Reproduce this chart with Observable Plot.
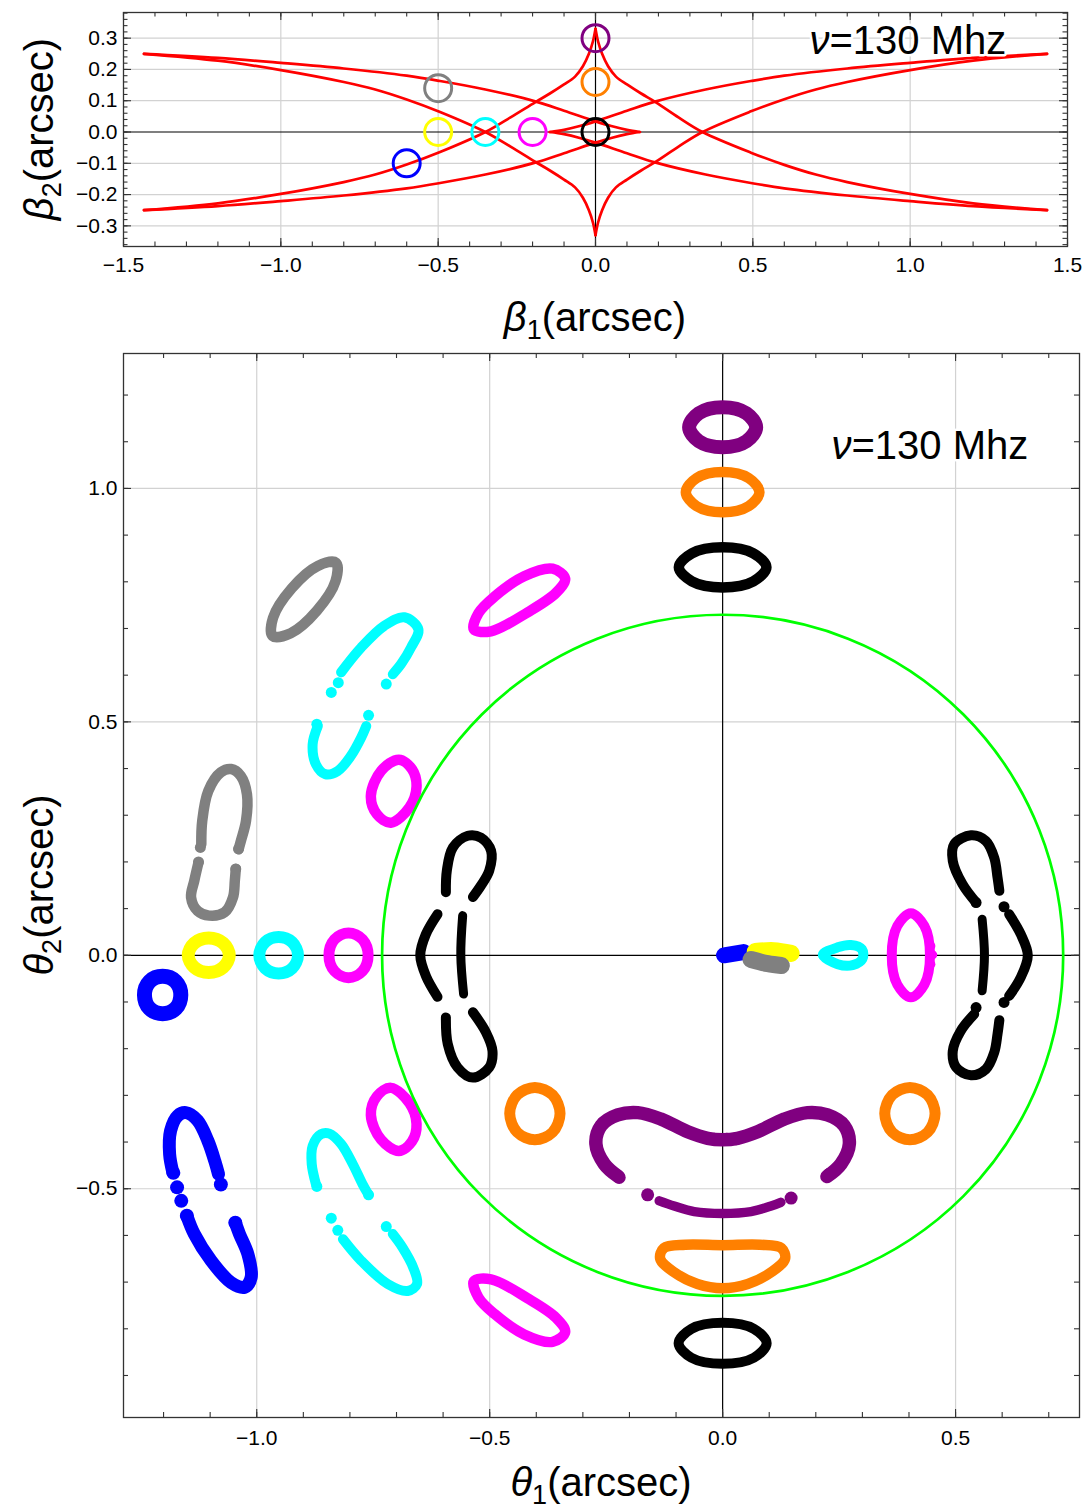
<!DOCTYPE html>
<html><head><meta charset="utf-8">
<script src="https://cdn.jsdelivr.net/npm/d3@7"></script>
<script src="https://cdn.jsdelivr.net/npm/@observablehq/plot@0.6"></script>
<style>
body{margin:0;background:#fff;font-family:"Liberation Sans",Arial,sans-serif;}
svg{display:block}
</style></head><body><div id="c"></div>
<script>
// ---------- colours
const COL = {blue:"#0000ff", yellow:"#ffff00", cyan:"#00ffff", magenta:"#ff00ff", black:"#000000", orange:"#ff8000", purple:"#800080", gray:"#808080", red:"#ff0000", green:"#00ff00"};

// ---------- TOP PANEL DATA (source plane)
const topXMajor = [-1.5,-1.0,-0.5,0,0.5,1.0,1.5];
const topYMajor = [-0.3,-0.2,-0.1,0,0.1,0.2,0.3];
const topGridX = [-1.0,-0.5,0.5,1.0];
const topGridY = [-0.3,-0.2,-0.1,0.1,0.2,0.3];
const srcX = [0, 0, 0, -0.2, -0.35, -0.5, -0.5, -0.6];
const srcY = [0.3, 0.16, 0, 0, 0, 0, 0.14, -0.1];
const srcColor = [COL.purple, COL.orange, COL.black, COL.magenta, COL.cyan, COL.yellow, COL.gray, COL.blue];

const steepTopLeft = [[0,0.33],[-0.008,0.29],[-0.021,0.25],[-0.04,0.21],[-0.065,0.177],[-0.1,0.152],[-0.145,0.123],[-0.192,0.095],[-0.27,0.047],[-0.35,0],[-0.494,-0.064],[-0.6,-0.104],[-0.7,-0.136],[-0.8,-0.16],[-1.0,-0.198],[-1.2,-0.228],[-1.435,-0.25]];
const steepTopRight = [[0,0.33],[0.008,0.29],[0.021,0.25],[0.04,0.21],[0.065,0.177],[0.1,0.152],[0.145,0.123],[0.192,0.095],[0.265,0.046],[0.34,0],[0.494,-0.066],[0.6,-0.105],[0.7,-0.136],[0.8,-0.16],[1.0,-0.198],[1.2,-0.228],[1.435,-0.25]];
const steepBottomLeft = [[0,-0.33],[-0.008,-0.29],[-0.021,-0.25],[-0.04,-0.21],[-0.065,-0.177],[-0.1,-0.152],[-0.145,-0.123],[-0.192,-0.095],[-0.27,-0.047],[-0.35,0],[-0.494,0.064],[-0.6,0.104],[-0.7,0.136],[-0.8,0.16],[-1.0,0.198],[-1.2,0.228],[-1.435,0.25]];
const steepBottomRight = [[0,-0.33],[0.008,-0.29],[0.021,-0.25],[0.04,-0.21],[0.065,-0.177],[0.1,-0.152],[0.145,-0.123],[0.192,-0.095],[0.265,-0.046],[0.34,0],[0.494,0.066],[0.6,0.105],[0.7,0.136],[0.8,0.16],[1.0,0.198],[1.2,0.228],[1.435,0.25]];
const flatUpperLeft = [[-1.435,0.25],[-1.2,0.237],[-1.0,0.221],[-0.8,0.203],[-0.6,0.18],[-0.494,0.163],[-0.35,0.136],[-0.192,0.098],[-0.1,0.068],[0,0.034],[0.05,0.019],[0.1,0.007],[0.141,0]];
const flatLowerLeft = [[-1.435,-0.25],[-1.2,-0.237],[-1.0,-0.221],[-0.8,-0.203],[-0.6,-0.18],[-0.494,-0.163],[-0.35,-0.136],[-0.192,-0.098],[-0.1,-0.068],[0,-0.034],[0.05,-0.019],[0.1,-0.007],[0.141,0]];
const flatUpperRight = [[1.435,0.25],[1.2,0.237],[1.0,0.221],[0.8,0.203],[0.6,0.18],[0.494,0.163],[0.35,0.136],[0.192,0.098],[0.1,0.068],[0,0.034],[-0.05,0.019],[-0.1,0.007],[-0.145,0]];
const flatLowerRight = [[1.435,-0.25],[1.2,-0.237],[1.0,-0.221],[0.8,-0.203],[0.6,-0.18],[0.494,-0.163],[0.35,-0.136],[0.192,-0.098],[0.1,-0.068],[0,-0.034],[-0.05,-0.019],[-0.1,-0.007],[-0.145,0]];

// ---------- BOTTOM PANEL DATA (image plane)
const botXMajor = [-1.0,-0.5,0,0.5];
const botYMajor = [-0.5,0,0.5,1.0];
const botGridX = [-1.0,-0.5,0.5];
const botGridY = [-0.5,0.5,1.0];
const lensCenter = [[0,0]];
const einsteinRadius = 0.731;

// closed images
const purpleTop = [[0.072,1.131],[0.051,1.161],[0,1.174],[-0.051,1.161],[-0.072,1.131],[-0.051,1.101],[0,1.088],[0.051,1.101]];
const orangeTop = [[0.079,0.992],[0.056,1.022],[0,1.035],[-0.056,1.022],[-0.079,0.992],[-0.056,0.962],[0,0.949],[0.056,0.962]];
const blackTop = [[0.094,0.831],[0.066,0.861],[0,0.874],[-0.066,0.861],[-0.094,0.831],[-0.066,0.801],[0,0.788],[0.066,0.801]];
const blackBottom = [[0.0945,-0.831],[0.067,-0.8],[0,-0.787],[-0.067,-0.8],[-0.0945,-0.831],[-0.067,-0.862],[0,-0.875],[0.067,-0.862]];
const magentaUpTilt = [[-0.534,0.698],[-0.524,0.733],[-0.49,0.768],[-0.426,0.812],[-0.365,0.828],[-0.338,0.807],[-0.358,0.776],[-0.418,0.735],[-0.497,0.694]];
const magentaLowTilt = [[-0.534,-0.698],[-0.524,-0.733],[-0.49,-0.768],[-0.426,-0.812],[-0.365,-0.828],[-0.338,-0.807],[-0.358,-0.776],[-0.418,-0.735],[-0.497,-0.694]];
const grayEllipse = [[-0.83,0.841],[-0.869,0.834],[-0.925,0.786],[-0.965,0.723],[-0.966,0.684],[-0.927,0.69],[-0.871,0.738],[-0.831,0.801]];
const yellowRing = [[-1.059,0],[-1.072,0.026],[-1.103,0.037],[-1.134,0.026],[-1.147,0],[-1.134,-0.026],[-1.103,-0.037],[-1.072,-0.026]];
const cyanRing = [[-0.9115,0],[-0.924,0.028],[-0.953,0.039],[-0.982,0.028],[-0.9945,0],[-0.982,-0.028],[-0.953,-0.039],[-0.924,-0.028]];
const magentaRingL = [[-0.761,0],[-0.773,0.034],[-0.803,0.048],[-0.833,0.034],[-0.845,0],[-0.833,-0.034],[-0.803,-0.048],[-0.773,-0.034]];
const magentaTiltA = [[-0.695,0.419],[-0.667,0.399],[-0.657,0.361],[-0.672,0.317],[-0.712,0.284],[-0.742,0.302],[-0.755,0.342],[-0.733,0.395]];
const magentaTiltB = [[-0.695,-0.419],[-0.667,-0.399],[-0.657,-0.361],[-0.672,-0.317],[-0.712,-0.284],[-0.742,-0.302],[-0.755,-0.342],[-0.733,-0.395]];
const blueRing = [[-1.163,-0.085],[-1.174,-0.056],[-1.202,-0.045],[-1.23,-0.056],[-1.241,-0.085],[-1.23,-0.114],[-1.202,-0.125],[-1.174,-0.114]];
const orangeLowL = [[-0.349,-0.339],[-0.365,-0.299],[-0.403,-0.283],[-0.441,-0.299],[-0.457,-0.339],[-0.441,-0.379],[-0.403,-0.395],[-0.365,-0.379]];
const orangeLowR = [[0.456,-0.339],[0.44,-0.299],[0.402,-0.283],[0.364,-0.299],[0.348,-0.339],[0.364,-0.379],[0.402,-0.395],[0.44,-0.379]];
const orangeBowl = [[0,-0.621],[0.08,-0.62],[0.126,-0.627],[0.134,-0.65],[0.104,-0.679],[0.054,-0.704],[0,-0.713],[-0.054,-0.704],[-0.104,-0.679],[-0.134,-0.65],[-0.126,-0.627],[-0.08,-0.62]];
const cyanTear = [[0.215,0.001],[0.247,0.017],[0.275,0.022],[0.299,0.013],[0.3,-0.008],[0.279,-0.021],[0.247,-0.019]];
const magentaRingR = [[0.445,0],[0.433,0.063],[0.404,0.09],[0.375,0.063],[0.363,0],[0.375,-0.063],[0.404,-0.09],[0.433,-0.063]];

// open (broken) images
const cyanUpA = [[-0.819,0.606],[-0.776,0.659],[-0.726,0.706],[-0.683,0.724],[-0.653,0.698],[-0.669,0.659],[-0.69,0.624],[-0.708,0.602]];
const cyanUpB = [[-0.869,0.491],[-0.88,0.452],[-0.873,0.409],[-0.853,0.388],[-0.826,0.395],[-0.798,0.427],[-0.776,0.466],[-0.765,0.491]];
const cyanUpDots = [[-0.825,0.584],[-0.84,0.563],[-0.722,0.581],[-0.76,0.514],[-0.871,0.495]];
const grayLowA = [[-1.119,0.238],[-1.117,0.288],[-1.104,0.352],[-1.077,0.392],[-1.055,0.399],[-1.034,0.384],[-1.021,0.345],[-1.023,0.288],[-1.034,0.245],[-1.039,0.227]];
const grayLowB = [[-1.125,0.199],[-1.134,0.16],[-1.141,0.124],[-1.127,0.095],[-1.102,0.085],[-1.069,0.092],[-1.051,0.124],[-1.047,0.16],[-1.045,0.185]];
const grayLowDots = [[-1.121,0.231],[-1.125,0.2],[-1.039,0.228],[-1.045,0.185]];
const blackL1 = [[-0.594,0.135],[-0.592,0.181],[-0.579,0.231],[-0.547,0.256],[-0.519,0.252],[-0.497,0.224],[-0.501,0.181],[-0.519,0.149],[-0.536,0.125]];
const blackL2 = [[-0.612,0.088],[-0.637,0.045],[-0.649,0],[-0.637,-0.044],[-0.612,-0.089]];
const blackL3 = [[-0.558,0.085],[-0.562,0],[-0.556,-0.083]];
const blackL4 = [[-0.594,-0.133],[-0.59,-0.19],[-0.569,-0.24],[-0.536,-0.262],[-0.501,-0.24],[-0.494,-0.205],[-0.508,-0.165],[-0.536,-0.122]];
const blackR1 = [[0.544,0.113],[0.515,0.152],[0.494,0.202],[0.497,0.238],[0.533,0.257],[0.565,0.245],[0.583,0.209],[0.59,0.167],[0.594,0.138]];
const blackR2 = [[0.557,0.077],[0.562,0],[0.557,-0.076]];
const blackR3 = [[0.615,0.088],[0.64,0.045],[0.655,0],[0.64,-0.047],[0.615,-0.087]];
const blackR4 = [[0.54,-0.126],[0.511,-0.162],[0.494,-0.205],[0.501,-0.24],[0.533,-0.257],[0.565,-0.244],[0.583,-0.208],[0.59,-0.169],[0.594,-0.139]];
const blackRDots = [[0.544,0.113],[0.604,0.104],[0.604,-0.101],[0.544,-0.112]];
const purpleWave = [[-0.224,-0.474],[-0.254,-0.447],[-0.272,-0.404],[-0.261,-0.365],[-0.225,-0.342],[-0.182,-0.337],[-0.132,-0.351],[-0.075,-0.378],[-0.032,-0.392],[0,-0.395],[0.032,-0.392],[0.075,-0.378],[0.132,-0.351],[0.182,-0.337],[0.225,-0.342],[0.261,-0.365],[0.272,-0.404],[0.254,-0.447],[0.224,-0.474]];
const purpleArc = [[-0.136,-0.526],[-0.104,-0.537],[-0.061,-0.549],[0,-0.553],[0.061,-0.549],[0.104,-0.537],[0.125,-0.529]];
const purpleDots = [[-0.222,-0.476],[0.229,-0.469],[-0.161,-0.513],[0.147,-0.52],[-0.018,-0.394],[0.009,-0.394],[0.029,-0.393]];
const blueLowA = [[-1.18,-0.465],[-1.187,-0.426],[-1.185,-0.376],[-1.17,-0.344],[-1.152,-0.337],[-1.127,-0.354],[-1.105,-0.397],[-1.089,-0.444],[-1.082,-0.469]];
const blueLowB = [[-1.15,-0.558],[-1.134,-0.597],[-1.098,-0.654],[-1.055,-0.701],[-1.026,-0.711],[-1.012,-0.69],[-1.019,-0.64],[-1.037,-0.597],[-1.046,-0.573]];
const blueLowDots = [[-1.179,-0.466],[-1.171,-0.497],[-1.162,-0.526],[-1.15,-0.558],[-1.077,-0.491],[-1.046,-0.573]];
const cyanLowA = [[-0.873,-0.49],[-0.882,-0.447],[-0.88,-0.408],[-0.862,-0.383],[-0.844,-0.382],[-0.819,-0.404],[-0.794,-0.447],[-0.773,-0.49],[-0.76,-0.513]];
const cyanLowB = [[-0.815,-0.608],[-0.776,-0.654],[-0.719,-0.704],[-0.676,-0.719],[-0.656,-0.704],[-0.664,-0.669],[-0.687,-0.626],[-0.708,-0.597]];
const cyanLowDots = [[-0.871,-0.495],[-0.76,-0.513],[-0.84,-0.563],[-0.826,-0.589],[-0.722,-0.581]];
const magentaRDots = [[0.447,0.02],[0.451,0.001],[0.447,-0.019]];
const blueBlob = [[0.003,0],[0.045,0.007]];
const yellowBlob = [[0.07,0.008],[0.11,0.01],[0.147,0.004]];
const grayBlob = [[0.061,-0.009],[0.097,-0.018],[0.126,-0.022]];

// ---------- helpers
const W = 1087;
const FONT = "Liberation Sans, Arial, Helvetica, sans-serif";
const xy = {x: d => d[0], y: d => d[1]};
const fmt = d3.format(".1f");
const minor = (a, b, s) => d3.range(Math.round(a / s), Math.round(b / s) + 1).map(k => +(k * s).toFixed(3));

function tickMarks(xMin, xMaj, yMin, yMaj, fw, fh, lenMaj, lenMin) {
  const st = {stroke: "#333", strokeWidth: 1.1};
  return [
    Plot.ruleX(xMin, {...st, insetTop: fh - lenMin}), Plot.ruleX(xMin, {...st, insetBottom: fh - lenMin}),
    Plot.ruleX(xMaj, {...st, insetTop: fh - lenMaj}), Plot.ruleX(xMaj, {...st, insetBottom: fh - lenMaj}),
    Plot.ruleY(yMin, {...st, insetRight: fw - lenMin}), Plot.ruleY(yMin, {...st, insetLeft: fw - lenMin}),
    Plot.ruleY(yMaj, {...st, insetRight: fw - lenMaj}), Plot.ruleY(yMaj, {...st, insetLeft: fw - lenMaj})
  ];
}

function freqLabel(dx, dy) {
  const base = {frameAnchor: "top-right", dx, dy, lineAnchor: "bottom", fontSize: 40, fill: "black", stroke: "white", strokeWidth: 5, text: d => d};
  return [
    Plot.text(["=130 Mhz"], {...base, textAnchor: "start"}),
    Plot.text(["ν"], {...base, textAnchor: "end", fontStyle: "italic"})
  ];
}

function addAxisLabel(svg, x, y, sym, sub, rotate) {
  const t = d3.select(svg).append("text")
    .attr("transform", `translate(${x},${y})` + (rotate ? " rotate(-90)" : ""))
    .attr("text-anchor", "middle").attr("font-size", 40).attr("font-family", FONT).attr("fill", "black");
  t.append("tspan").attr("font-style", "italic").text(sym);
  t.append("tspan").attr("font-size", 27).attr("dy", 8).text(sub);
  t.append("tspan").attr("dy", -8).text("(arcsec)");
}

// ---------- TOP PLOT
const T = {ml: 123, mr: 20, mt: 12, mb: 104, h: 350};
const tFW = W - T.ml - T.mr, tFH = T.h - T.mt - T.mb;
const caustics = [steepTopLeft, steepTopRight, steepBottomLeft, steepBottomRight, flatUpperLeft, flatLowerLeft, flatUpperRight, flatLowerRight];
const topPlot = Plot.plot({
  width: W, height: T.h, marginLeft: T.ml, marginRight: T.mr, marginTop: T.mt, marginBottom: T.mb,
  x: {domain: [-1.5, 1.5]}, y: {domain: [-0.366, 0.382]}, color: {type: "identity"},
  style: {fontFamily: FONT, background: "white", color: "black"},
  marks: [
    Plot.ruleX(topGridX, {stroke: "#d2d2d2", strokeWidth: 1.2}),
    Plot.ruleY(topGridY, {stroke: "#d2d2d2", strokeWidth: 1.2}),
    Plot.ruleX([0], {stroke: "black", strokeWidth: 1.2}),
    Plot.ruleY([0], {stroke: "black", strokeWidth: 1.2}),
    ...caustics.map(c => Plot.line(c, {...xy, stroke: COL.red, strokeWidth: 2.7, curve: "catmull-rom"})),
    Plot.dot(d3.range(srcX.length), {x: i => srcX[i], y: i => srcY[i], r: 13.5, stroke: i => srcColor[i], strokeWidth: 3, fill: "none"}),
    ...freqLabel(-238, 41),
    ...tickMarks(minor(-1.5, 1.5, 0.1), topXMajor, minor(-0.36, 0.38, 0.02), topYMajor, tFW, tFH, 8, 4.5),
    Plot.axisX(topXMajor, {tickSize: 0, tickPadding: 11, fontSize: 21, tickFormat: fmt, label: null}),
    Plot.axisY(topYMajor, {tickSize: 0, tickPadding: 6, fontSize: 21, tickFormat: fmt, label: null}),
    Plot.frame({stroke: "#333", strokeWidth: 1.3})
  ]
});
addAxisLabel(topPlot, 595, 331, "β", "1", false);
addAxisLabel(topPlot, 53, 129, "β", "2", true);

// ---------- BOTTOM PLOT
const B = {ml: 123, mr: 8, mt: 3, mb: 94, h: 1161};
const bxDom = [-1.286, 0.766], byDom = [-0.99, 1.289];
const bFW = W - B.ml - B.mr, bFH = B.h - B.mt - B.mb;
const pxPerUnit = bFW / (bxDom[1] - bxDom[0]);

const closedImages = [
  [purpleTop, COL.purple, 14], [orangeTop, COL.orange, 10.5], [blackTop, COL.black, 10.5], [blackBottom, COL.black, 10],
  [magentaUpTilt, COL.magenta, 10.5], [magentaLowTilt, COL.magenta, 10.5], [grayEllipse, COL.gray, 10.5],
  [yellowRing, COL.yellow, 13], [cyanRing, COL.cyan, 12], [magentaRingL, COL.magenta, 11],
  [magentaTiltA, COL.magenta, 10.5], [magentaTiltB, COL.magenta, 10.5], [blueRing, COL.blue, 15],
  [orangeLowL, COL.orange, 11], [orangeLowR, COL.orange, 11], [orangeBowl, COL.orange, 10.5],
  [cyanTear, COL.cyan, 10], [magentaRingR, COL.magenta, 10]
];
const openImages = [
  [cyanUpA, COL.cyan, 10], [cyanUpB, COL.cyan, 10], [grayLowA, COL.gray, 10.5], [grayLowB, COL.gray, 10.5],
  [blackL1, COL.black, 10], [blackL2, COL.black, 10], [blackL3, COL.black, 9], [blackL4, COL.black, 10],
  [blackR1, COL.black, 10], [blackR2, COL.black, 9], [blackR3, COL.black, 10], [blackR4, COL.black, 10],
  [purpleWave, COL.purple, 13.5], [purpleArc, COL.purple, 9.5],
  [blueLowA, COL.blue, 13], [blueLowB, COL.blue, 13], [cyanLowA, COL.cyan, 10], [cyanLowB, COL.cyan, 10],
  [blueBlob, COL.blue, 16], [yellowBlob, COL.yellow, 17], [grayBlob, COL.gray, 17]
];
const dotImages = [
  [cyanUpDots, COL.cyan, 5.5], [grayLowDots, COL.gray, 5.5], [blackRDots, COL.black, 5.5], [purpleDots, COL.purple, 6.5],
  [blueLowDots, COL.blue, 7], [cyanLowDots, COL.cyan, 5.5], [magentaRDots, COL.magenta, 4.5]
];

const botPlot = Plot.plot({
  width: W, height: B.h, marginLeft: B.ml, marginRight: B.mr, marginTop: B.mt, marginBottom: B.mb,
  x: {domain: bxDom}, y: {domain: byDom},
  style: {fontFamily: FONT, background: "white", color: "black"},
  marks: [
    Plot.ruleX(botGridX, {stroke: "#d2d2d2", strokeWidth: 1.2}),
    Plot.ruleY(botGridY, {stroke: "#d2d2d2", strokeWidth: 1.2}),
    Plot.ruleX([0], {stroke: "black", strokeWidth: 1.2}),
    Plot.ruleY([0], {stroke: "black", strokeWidth: 1.2}),
    ...closedImages.map(([p, c, w]) => Plot.line(p, {...xy, stroke: c, strokeWidth: w, curve: "catmull-rom-closed", strokeLinejoin: "round"})),
    ...openImages.map(([p, c, w]) => Plot.line(p, {...xy, stroke: c, strokeWidth: w, curve: "catmull-rom", strokeLinecap: "round", strokeLinejoin: "round"})),
    ...dotImages.map(([p, c, r]) => Plot.dot(p, {...xy, r, fill: c})),
    Plot.dot(lensCenter, {...xy, r: einsteinRadius * pxPerUnit, stroke: COL.green, strokeWidth: 2.7, fill: "none"}),
    ...freqLabel(-228, 105),
    ...tickMarks(minor(-1.2, 0.7, 0.1), botXMajor, minor(-0.9, 1.2, 0.1), botYMajor, bFW, bFH, 8, 5),
    Plot.axisX(botXMajor, {tickSize: 0, tickPadding: 13, fontSize: 21, tickFormat: fmt, label: null}),
    Plot.axisY(botYMajor, {tickSize: 0, tickPadding: 6, fontSize: 21, tickFormat: fmt, label: null}),
    Plot.frame({stroke: "#333", strokeWidth: 1.3})
  ]
});
addAxisLabel(botPlot, 601, 1146, "θ", "1", false);
addAxisLabel(botPlot, 53, 535, "θ", "2", true);

document.getElementById("c").append(topPlot, botPlot);
</script></body></html>
